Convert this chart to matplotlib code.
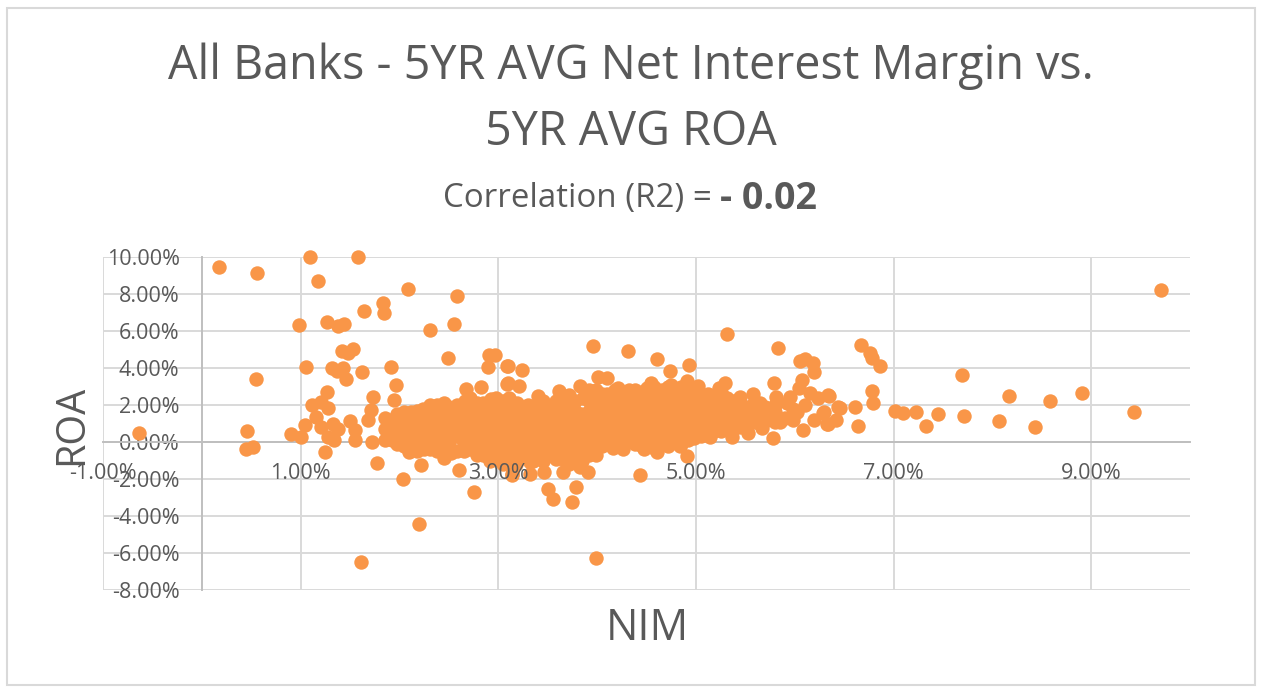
import matplotlib
matplotlib.use('Agg')
import matplotlib.pyplot as plt
from matplotlib.patches import Rectangle

# Values, in percent
outlier_nim = [-0.64, 0.17, 0.56, 1.09, 1.58, 1.18, 2.09, 2.58, 1.83, 1.84, 1.64, 0.98, 1.27, 1.38, 1.44,
               2.31, 2.55, 1.42, 1.48, 1.53, 2.49, 1.05, 1.32, 1.37, 1.43, 1.46, 1.62, 1.91, 0.55, 1.96,
               1.27, 1.73, 1.94, 2.90, 2.91, 2.97, 3.09, 3.09, 2.83, 2.67, 1.12, 1.21, 1.28, 1.16, 1.21,
               1.33, 1.38, 1.28, 1.34, 1.04, 0.90, 1.00, 0.46, 0.45, 0.52, 1.25, 1.50, 1.55, 1.55, 1.68,
               1.71, 1.72, 1.77, 2.04, 2.22, 2.20, 1.61, 2.60, 2.75, 2.45, 3.14, 2.10,
               3.96, 4.31, 5.31, 5.83, 4.61, 4.93, 4.74, 3.10, 3.24, 3.10, 3.21, 4.01, 4.10, 3.83, 3.61,
               3.40, 3.72, 4.21, 4.38, 4.55, 4.75, 4.91, 5.02, 5.29, 5.23, 5.58, 5.45, 5.79, 5.81, 6.07,
               6.04, 5.95, 6.15, 6.34, 6.24, 6.05, 6.10, 6.18, 6.20, 6.44, 6.29, 6.20, 6.33, 6.08, 5.78,
               5.85, 5.67, 5.53, 5.37, 5.14, 4.91, 4.84, 4.43, 3.99, 3.79, 3.75, 3.50, 3.55, 3.65, 3.46,
               3.91, 3.32, 3.14, 3.83, 3.99, 3.49, 4.61, 4.47, 4.26, 4.16, 2.90, 3.35, 3.66,
               9.71, 6.67, 6.76, 6.78, 6.86, 7.69, 8.17, 8.58, 8.91, 9.43, 8.43, 8.07, 7.71, 7.45, 7.33,
               7.23, 7.10, 7.01, 6.79, 6.78, 6.64, 6.61, 6.46, 6.35, 6.42, 6.34, 6.30]
outlier_roa = [0.49, 9.48, 9.15, 10.0, 10.0, 8.72, 8.29, 7.91, 7.51, 6.99, 7.10, 6.34, 6.50, 6.29, 6.40,
               6.04, 6.40, 4.94, 4.81, 5.01, 4.52, 4.07, 4.02, 3.84, 4.00, 3.42, 3.78, 4.04, 3.42, 3.10,
               2.70, 2.45, 2.29, 4.05, 4.72, 4.72, 4.09, 3.15, 2.97, 2.88, 1.98, 2.16, 1.84, 1.35, 0.81,
               0.99, 0.72, 0.27, 0.13, 0.90, 0.41, 0.27, 0.61, -0.40, -0.27, -0.52, 1.12, 0.09, 0.63, 1.17,
               1.71, 0.00, -1.12, -1.98, -1.23, -4.41, -6.47, -1.50, -2.70, -0.85, -1.80, -0.54,
               5.19, 4.90, 5.82, 5.06, 4.47, 4.16, 3.84, 4.10, 3.89, 3.17, 3.03, 3.53, 3.44, 3.03, 2.77,
               2.49, 2.54, 2.94, 2.81, 3.21, 3.08, 3.30, 3.03, 3.21, 2.90, 2.59, 2.45, 3.17, 2.41, 3.35,
               2.90, 2.45, 2.63, 2.54, 2.36, 4.40, 4.47, 4.29, 3.80, 1.91, 1.55, 1.19, 1.00, 0.65, 0.20,
               1.10, 0.74, 0.47, 0.29, 0.25, -0.76, -0.22, -1.78, -6.29, -2.41, -3.26, -2.56, -3.10, -1.60, -1.60,
               -1.60, -1.73, -1.73, -1.33, -0.70, -0.70, -0.56, -0.38, -0.38, -0.34, -0.80, -1.00, -0.88,
               8.23, 5.24, 4.83, 4.56, 4.11, 3.60, 2.47, 2.23, 2.63, 1.64, 0.83, 1.15, 1.42, 1.50, 0.88,
               1.64, 1.59, 1.68, 2.11, 2.77, 0.88, 1.91, 1.86, 2.50, 1.17, 1.00, 1.62]

# the dense band in the middle, estimated column by column
band_nim = [1.85, 1.85, 1.85, 1.98, 1.98, 1.98, 1.98, 2.10, 2.12, 2.10, 2.12, 2.25, 2.24, 2.26, 2.25, 2.24,
            2.38, 2.38, 2.37, 2.39, 2.38, 2.52, 2.50, 2.52, 2.51, 2.50, 2.65, 2.64, 2.66, 2.65, 2.64, 2.66,
            2.78, 2.80, 2.78, 2.79, 2.80, 2.78, 2.92, 2.90, 2.93, 2.91, 2.92, 2.90, 2.93,
            3.05, 3.04, 3.06, 3.05, 3.04, 3.06, 3.05, 3.18, 3.20, 3.18, 3.19, 3.20, 3.18, 3.19,
            3.32, 3.30, 3.33, 3.31, 3.32, 3.30, 3.45, 3.44, 3.46, 3.45, 3.44, 3.46, 3.45,
            3.58, 3.60, 3.58, 3.59, 3.60, 3.58, 3.72, 3.70, 3.73, 3.71, 3.72, 3.70, 3.71,
            3.85, 3.84, 3.86, 3.85, 3.84, 3.86, 3.98, 4.00, 3.98, 3.99, 4.00, 3.98, 3.99,
            4.12, 4.10, 4.13, 4.11, 4.12, 4.10, 4.25, 4.24, 4.26, 4.25, 4.24, 4.26, 4.25,
            4.38, 4.40, 4.38, 4.39, 4.40, 4.38, 4.52, 4.50, 4.53, 4.51, 4.52, 4.50, 4.51,
            4.65, 4.64, 4.66, 4.65, 4.64, 4.66, 4.78, 4.80, 4.78, 4.79, 4.80, 4.78,
            4.92, 4.90, 4.93, 4.91, 4.92, 5.05, 5.04, 5.06, 5.05, 5.04, 5.18, 5.20, 5.18, 5.19,
            5.32, 5.30, 5.33, 5.31, 5.45, 5.44, 5.46, 5.58, 5.60, 5.59, 5.72, 5.70, 5.90, 5.92, 6.02, 6.10]
band_roa = [0.1, 0.7, 1.3, -0.1, 0.4, 0.9, 1.5, -0.3, 0.3, 0.9, 1.6, -0.4, 0.1, 0.7, 1.2, 1.8,
            -0.5, 0.2, 0.8, 1.4, 2.0, -0.6, 0.0, 0.6, 1.2, 1.9, -0.5, 0.1, 0.7, 1.2, 1.7, 2.2,
            -0.7, -0.1, 0.5, 1.0, 1.5, 2.1, -1.0, -0.4, 0.2, 0.8, 1.3, 1.8, 2.3,
            -1.2, -0.6, 0.0, 0.5, 1.0, 1.6, 2.2, -1.2, -0.6, 0.0, 0.6, 1.1, 1.6, 2.1,
            -1.1, -0.5, 0.1, 0.7, 1.4, 2.0, -1.0, -0.4, 0.1, 0.6, 1.1, 1.6, 2.2,
            -0.9, -0.3, 0.3, 0.9, 1.5, 2.2, -1.2, -0.6, 0.0, 0.6, 1.2, 1.8, 2.4,
            -1.0, -0.4, 0.2, 0.8, 1.5, 2.4, -0.5, 0.1, 0.7, 1.2, 1.8, 2.4, 2.8,
            -0.1, 0.4, 1.0, 1.5, 2.0, 2.6, -0.1, 0.4, 0.9, 1.4, 1.9, 2.3, 2.7,
            -0.1, 0.4, 0.9, 1.4, 2.0, 2.6, 0.0, 0.5, 1.0, 1.5, 2.0, 2.5, 2.9,
            -0.1, 0.4, 0.9, 1.5, 2.1, 2.8, 0.0, 0.5, 1.1, 1.6, 2.2, 2.8,
            0.1, 0.7, 1.3, 1.9, 2.6, 0.3, 0.8, 1.4, 2.0, 2.6, 0.6, 1.1, 1.7, 2.3,
            0.8, 1.3, 1.8, 2.4, 0.8, 1.4, 2.0, 1.1, 1.6, 2.1, 1.2, 1.9, 1.3, 2.1, 1.6, 2.0]

# more banks between those columns, where the marks merge into one solid shape
core_nim = [1.92, 1.92, 1.92, 2.05, 2.05, 2.05, 2.05, 2.18, 2.18, 2.18, 2.18, 2.18,
            2.31, 2.31, 2.31, 2.31, 2.31, 2.45, 2.45, 2.45, 2.45, 2.45, 2.58, 2.58, 2.58, 2.58, 2.58,
            2.71, 2.71, 2.71, 2.71, 2.71, 2.71, 2.85, 2.85, 2.85, 2.85, 2.85, 2.85,
            2.98, 2.98, 2.98, 2.98, 2.98, 2.98, 2.98, 3.11, 3.11, 3.11, 3.11, 3.11, 3.11, 3.11,
            3.25, 3.25, 3.25, 3.25, 3.25, 3.25, 3.38, 3.38, 3.38, 3.38, 3.38, 3.38,
            3.51, 3.51, 3.51, 3.51, 3.51, 3.51, 3.65, 3.65, 3.65, 3.65, 3.65, 3.65,
            3.78, 3.78, 3.78, 3.78, 3.78, 3.78, 3.92, 3.92, 3.92, 3.92, 3.92, 3.92, 3.92,
            4.05, 4.05, 4.05, 4.05, 4.05, 4.05, 4.18, 4.18, 4.18, 4.18, 4.18, 4.18, 4.18,
            4.32, 4.32, 4.32, 4.32, 4.32, 4.32, 4.45, 4.45, 4.45, 4.45, 4.45, 4.45, 4.45,
            4.58, 4.58, 4.58, 4.58, 4.58, 4.58, 4.58, 4.72, 4.72, 4.72, 4.72, 4.72, 4.72, 4.72,
            4.85, 4.85, 4.85, 4.85, 4.85, 4.85, 4.85, 4.98, 4.98, 4.98, 4.98, 4.98, 4.98,
            5.12, 5.12, 5.12, 5.12, 5.12, 5.25, 5.25, 5.25, 5.25, 5.25, 5.38, 5.38, 5.38, 5.38,
            5.52, 5.52, 5.52, 5.65, 5.65, 5.65, 5.80, 5.80, 5.80, 5.98, 5.98]
core_roa = [0.1, 0.7, 1.2, -0.2, 0.4, 1.0, 1.6, -0.5, 0.1, 0.6, 1.2, 1.7,
            -0.4, 0.3, 0.9, 1.5, 2.0, -0.3, 0.3, 0.9, 1.5, 2.1, -0.5, 0.3, 0.9, 1.5, 2.0,
            -0.4, 0.2, 0.8, 1.3, 1.9, 2.4, -0.7, -0.1, 0.5, 1.1, 1.6, 2.1,
            -0.9, -0.3, 0.3, 0.8, 1.3, 1.9, 2.4, -0.9, -0.3, 0.3, 0.8, 1.3, 1.9, 2.4,
            -0.8, -0.3, 0.3, 0.9, 1.4, 1.9, -0.8, -0.2, 0.4, 0.9, 1.4, 1.9,
            -0.7, -0.1, 0.4, 0.9, 1.4, 1.9, -0.9, -0.3, 0.3, 0.9, 1.5, 2.1,
            -0.7, -0.1, 0.5, 1.1, 1.7, 2.2, -0.7, -0.1, 0.5, 1.1, 1.7, 2.2, 2.8,
            -0.2, 0.4, 1.0, 1.5, 2.1, 2.6, -0.2, 0.2, 0.7, 1.2, 1.7, 2.2, 2.8,
            0.2, 0.7, 1.2, 1.7, 2.3, 2.8, -0.2, 0.2, 0.7, 1.2, 1.7, 2.3, 2.7,
            -0.3, 0.2, 0.7, 1.2, 1.8, 2.4, 3.0, -0.2, 0.3, 0.8, 1.3, 1.9, 2.5, 3.0,
            -0.1, 0.3, 0.8, 1.4, 1.9, 2.5, 3.0, 0.2, 0.7, 1.2, 1.7, 2.3, 2.8,
            0.4, 1.0, 1.5, 2.0, 2.6, 0.6, 1.1, 1.6, 2.2, 2.7, 0.7, 1.2, 1.7, 2.2,
            0.9, 1.4, 1.9, 1.0, 1.6, 2.1, 1.1, 1.6, 2.0, 1.2, 1.8]

x_ticks = [-1, 1, 3, 5, 7, 9]
x_tick_labels = ['-1.00%', '1.00%', '3.00%', '5.00%', '7.00%', '9.00%']
y_ticks = [-8, -6, -4, -2, 0, 2, 4, 6, 8, 10]
y_tick_labels = ['-8.00%', '-6.00%', '-4.00%', '-2.00%', '0.00%', '2.00%', '4.00%', '6.00%', '8.00%', '10.00%']

W, H = 1262, 697
plt.rcParams['font.family'] = ['Open Sans', 'DejaVu Sans']
text_color = '#595959'
dot_color = '#F99648'
axes_box = [103 / W, 1 - 590 / H, 1087 / W, 333 / H]

fig = plt.figure(figsize=(W / 100, H / 100), dpi=100)
# outer chart frame, kept behind the axes
fig.add_artist(Rectangle((7 / W, 1 - 685 / H), 1248 / W, 677 / H, transform=fig.transFigure,
                         facecolor='white', edgecolor='#d9d9d9', linewidth=1.5, zorder=-1))

ax = fig.add_axes(axes_box, zorder=2)
ax.patch.set_alpha(0)
ax.set_xlim(-1, 10)
ax.set_ylim(-8, 10)

for xs, ys in [(band_nim, band_roa), (core_nim, core_roa), (outlier_nim, outlier_roa)]:
    ax.scatter(xs, ys, s=108, color=dot_color, linewidths=0, zorder=3, clip_on=False)

# Excel style: axes cross at zero, labels stay next to them
ax.set_xticks(x_ticks)
ax.set_xticklabels([])
ax.set_yticks(y_ticks)
ax.set_yticklabels(y_tick_labels)
ax.tick_params(axis='x', length=0)
ax.tick_params(axis='y', length=0, pad=16, labelsize=15.5, labelcolor=text_color)
ax.grid(True, color='#d9d9d9', linewidth=1.4, zorder=0)
ax.set_axisbelow(True)
for side in ['top', 'right']:
    ax.spines[side].set_visible(False)
ax.spines['left'].set_position('zero')
ax.spines['bottom'].set_position('zero')
for side in ['left', 'bottom']:
    ax.spines[side].set_color('#bfbfbf')
    ax.spines[side].set_linewidth(1.4)
    ax.spines[side].set_zorder(1)

# x labels sit on top of the dots in the original, so they get their own axes
top = fig.add_axes(axes_box, zorder=3)
top.patch.set_alpha(0)
top.set_xlim(-1, 10)
top.set_ylim(-8, 10)
top.set_xticks(x_ticks)
top.set_xticklabels(x_tick_labels)
top.set_yticks([])
top.tick_params(axis='x', length=0, pad=15, labelsize=15.5, labelcolor=text_color)
top.spines['bottom'].set_position('zero')
for side in top.spines:
    top.spines[side].set_visible(False)

fig.text(631 / W, 1 - 66 / H, 'All Banks - 5YR AVG Net Interest Margin vs.', fontsize=33.6,
         color=text_color, ha='center', va='center')
fig.text(631 / W, 1 - 132 / H, '5YR AVG ROA', fontsize=33.6, color=text_color, ha='center', va='center')
fig.text(712 / W, 1 - 199 / H, 'Correlation (R2) =', fontsize=23.8, color=text_color, ha='right', va='center')
fig.text(720 / W, 1 - 199 / H, '- 0.02', fontsize=27, fontweight='bold', color=text_color, ha='left', va='center')
fig.text(647 / W, 1 - 629 / H, 'NIM', fontsize=31, color=text_color, ha='center', va='center')
fig.text(72 / W, 1 - 425 / H, 'ROA', fontsize=28.5, color=text_color, ha='center', va='center', rotation=90)

fig.savefig('out.png', dpi=100)
